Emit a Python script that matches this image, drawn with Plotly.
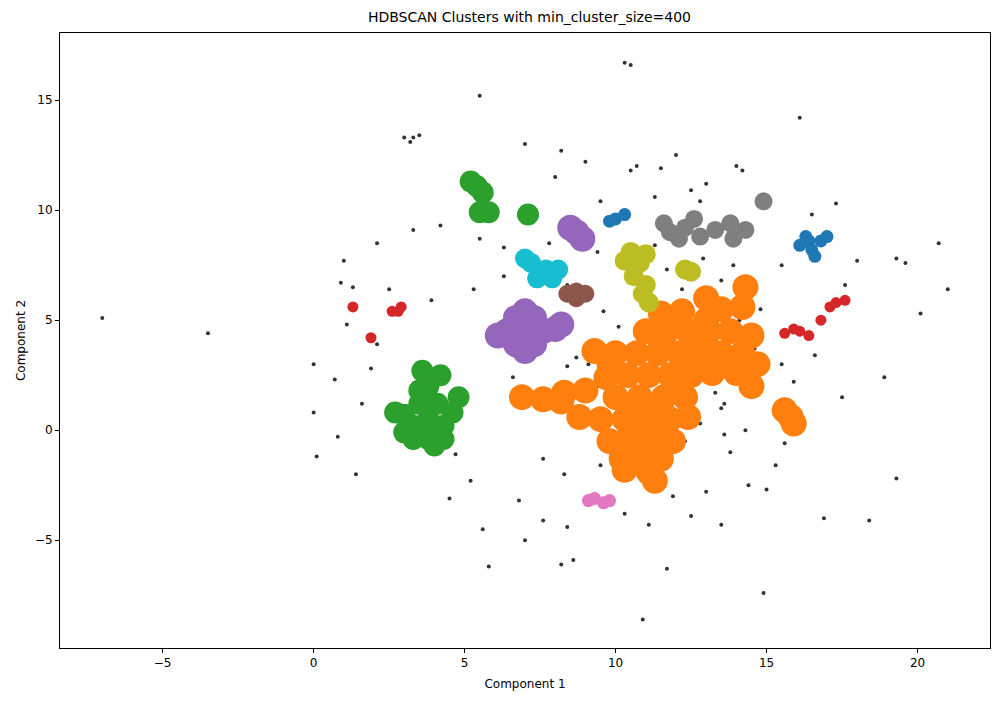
import plotly.graph_objects as go

# cluster points (component 1, component 2)
green_x = [3.8, 3.3, 4.3, 3.5, 4.1, 3.0, 4.6, 3.8, 3.3, 4.3, 3.8, 4.2, 3.6, 2.7, 4.8, 3.0, 4.0, 3.5,
           5.2, 5.4, 5.6, 5.5, 5.8, 7.1]
green_y = [0.5, 0.2, 0.2, 1.2, 1.2, 0.7, 0.8, -0.4, -0.4, -0.4, 2.0, 2.5, 2.7, 0.8, 1.5, -0.1, -0.7, 1.8,
           11.3, 11.1, 10.8, 9.9, 9.9, 9.8]
purple_x = [7.0, 6.4, 7.6, 6.1, 8.0, 6.7, 7.3, 6.7, 7.3, 7.0, 7.0, 8.2, 8.7, 8.9, 8.5]
purple_y = [4.5, 4.5, 4.5, 4.3, 4.6, 5.1, 5.1, 3.9, 3.9, 5.4, 3.6, 4.8, 9.0, 8.7, 9.2]
cyan_x = [7.2, 7.7, 7.4, 7.9, 7.0, 8.1]
cyan_y = [7.6, 7.3, 6.9, 6.9, 7.8, 7.3]
brown_x = [8.7, 8.4, 9.0, 8.7]
brown_y = [6.3, 6.2, 6.2, 6.0]
olive_x = [10.3, 10.8, 10.6, 11.0, 10.9, 10.5, 11.0, 11.1, 12.5, 12.3]
olive_y = [7.7, 7.6, 7.0, 6.6, 6.2, 8.1, 8.0, 5.8, 7.2, 7.3]
blue_x = [10.0, 9.8, 10.3, 16.4, 16.8, 16.5, 16.3, 17.0, 16.6, 16.1]
blue_y = [9.6, 9.5, 9.8, 8.6, 8.6, 8.2, 8.8, 8.8, 7.9, 8.4]
gray_x = [11.8, 12.3, 12.8, 13.3, 13.8, 14.3, 13.9, 11.6, 12.1, 14.9, 12.6]
gray_y = [9.0, 9.2, 8.8, 9.1, 9.4, 9.1, 8.7, 9.4, 8.7, 10.4, 9.6]
red_x = [1.3, 1.9, 2.6, 2.9, 2.8, 15.6, 16.1, 16.4, 16.8, 17.1, 17.6, 17.3, 15.9]
red_y = [5.6, 4.2, 5.4, 5.6, 5.4, 4.4, 4.5, 4.3, 5.0, 5.6, 5.9, 5.8, 4.6]
pink_x = [9.3, 9.6, 9.1, 9.8]
pink_y = [-3.1, -3.3, -3.2, -3.2]
orange_x = [10.0, 10.7, 11.4, 12.1, 12.8, 13.5, 14.2, 9.3, 11.0, 11.7, 12.4, 13.1, 13.8, 14.5,
            11.5, 12.2, 13.5, 14.2, 14.3, 12.5, 11.8, 11.1, 13.2, 14.0, 14.5, 10.4, 9.7, 9.0,
            8.3, 7.6, 10.0, 10.8, 11.6, 12.3, 9.5, 10.3, 11.1, 11.8, 12.4, 9.8, 10.5, 11.2,
            11.9, 10.2, 10.9, 11.5, 10.3, 11.1, 11.3, 15.8, 15.9, 15.6, 6.9, 8.8, 14.7, 13.0,
            9.8, 12.5, 13.8, 11.5, 12.8, 10.5, 11.5, 12.0, 13.0, 10.5, 11.5, 10.6, 8.2]
orange_y = [3.5, 3.5, 3.5, 3.5, 3.5, 3.5, 3.5, 3.6, 4.5, 4.5, 4.5, 4.5, 4.5, 4.3,
            5.3, 5.4, 5.5, 5.6, 6.5, 2.5, 2.5, 2.5, 2.6, 2.6, 2.0, 2.5, 2.4, 1.8,
            1.7, 1.4, 1.5, 1.5, 1.5, 1.5, 0.5, 0.5, 0.5, 0.5, 0.6, -0.5, -0.5, -0.5,
            -0.5, -1.3, -1.3, -1.3, -1.8, -1.9, -2.3, 0.6, 0.3, 0.9, 1.5, 0.6, 3.0, 6.0,
            3.0, 3.0, 3.0, 4.0, 4.0, 1.0, 1.0, 2.0, 5.0, 0.0, 0.0, -0.9, 1.3]
noise_x = [-7, -3.5, 0, 0, 0.1, 0.7, 0.8, 0.9, 1, 1.1, 1.3, 1.4, 1.6, 1.9, 2.1, 2.1, 2.5, 3, 3.3,
           3.5, 3.2, 3.3, 4.2, 3.9, 4.5, 4.7, 5.2, 5.6, 5.8, 5.5, 6.3, 6.6, 7, 6.8, 7.0, 7.6, 8,
           8.4, 8.2, 8.3, 8.4, 8.2, 8.6, 9, 9.5, 9.0, 9.5, 10.5, 10.7, 11.3, 11.5, 12, 12.5, 13,
           12.9, 13.5, 13.5, 14, 14.2, 14.3, 14.8, 15.5, 15.3, 15, 15.5, 15.6, 15.9, 16.1, 16.5,
           16.6, 16.9, 17.3, 17.5, 17.6, 18, 18.4, 18.9, 19.3, 19.3, 19.6, 20.1, 20.7, 21, 11.1,
           11.7, 12.5, 13, 13.5, 14.4, 14.9, 10.9, 10.3, 10.5, 12.3, 12.8, 13.3, 13.6, 9.1, 9.4,
           8.4, 8.7, 12.2, 12.7, 11.7, 11.3, 12.8, 13.9, 14.1, 10.1, 9.6, 9.4, 7.8, 5.3, 5.5,
           6.3, 13.6, 13.8, 14.6, 11.9, 10.3, 7.6]
noise_y = [5.1, 4.4, 3, 0.8, -1.2, 2.3, -0.3, 6.7, 7.7, 4.8, 6.5, -2, 1.2, 2.8, 8.5, 3.9, 6.4,
           13.3, 13.3, 13.4, 13.1, 9.1, 9.3, 5.9, -3.1, -1.1, -2.3, -4.5, -6.2, 15.2, 7, 2.4, 13,
           -3.2, -5, -4.1, 11.5, 6.6, 12.7, -2, -4.4, -6.1, -5.9, 12.2, 10.4, 1.8, -1.6, 11.8,
           12.0, 10.6, 11.9, 12.5, 10.9, 11.2, 7.8, 6.8, 1.0, 12.0, 11.8, 0, 5.5, 3.0, -1.6,
           -2.7, 7.5, -0.6, 2.2, 14.2, 9.8, 3.4, -4, 10.3, 1.5, 6.6, 7.7, -4.1, 2.4, -2.2, 7.8,
           7.6, 5.3, 8.5, 6.4, -4.3, -6.3, -3.9, -2.8, -4.3, -2.5, -7.4, -8.6, 16.7, 16.6, -0.5,
           0.3, 1.7, -0.2, 3.0, 2.0, 2.9, 3.3, 6.4, 5.8, 7.3, 8.4, 10.4, 7.5, 5.0, 4.7, 5.4,
           8.1, 8.5, 6.4, 8.7, 8.3, 1.2, -1.0, 3.7, -3.0, -3.8, -1.3]

clusters = [
    (orange_x, orange_y, "#ff7f0e", 26),
    (green_x, green_y, "#2ca02c", 22),
    (purple_x, purple_y, "#9467bd", 26),
    (cyan_x, cyan_y, "#17becf", 20),
    (brown_x, brown_y, "#8c564b", 18),
    (olive_x, olive_y, "#bcbd22", 20),
    (blue_x, blue_y, "#1f77b4", 13),
    (gray_x, gray_y, "#7f7f7f", 18),
    (red_x, red_y, "#d62728", 11),
    (pink_x, pink_y, "#e377c2", 13),
]

fig = go.Figure()
fig.add_trace(go.Scatter(x=noise_x, y=noise_y, mode="markers",
                         marker=dict(color="black", size=4, opacity=0.8), showlegend=False))
for xs, ys, color, size in clusters:
    fig.add_trace(go.Scatter(x=xs, y=ys, mode="markers",
                             marker=dict(color=color, size=size, line=dict(width=0)),
                             showlegend=False))

axis_style = dict(showgrid=False, zeroline=False, showline=True, linecolor="black",
                  mirror=True, ticks="outside", ticklen=4, tickcolor="black",
                  automargin=False, tickfont=dict(size=12, color="black"))
fig.update_xaxes(range=[-8.4, 22.4], dtick=5, title=dict(text="Component 1", standoff=10,
                 font=dict(size=12)), **axis_style)
fig.update_yaxes(range=[-9.9, 18.05], dtick=5, title=dict(text="Component 2", standoff=6,
                 font=dict(size=12)), **axis_style)
fig.update_layout(
    width=999, height=701,
    title=dict(text="HDBSCAN Clusters with min_cluster_size=400", x=0.522, xanchor="center",
               y=1.0, yanchor="top", pad=dict(t=4), font=dict(size=14, color="black")),
    font=dict(family="DejaVu Sans", color="black"),
    plot_bgcolor="white", paper_bgcolor="white",
    margin=dict(l=52, r=17, t=25, b=61),
)
fig.write_html("out.html")
